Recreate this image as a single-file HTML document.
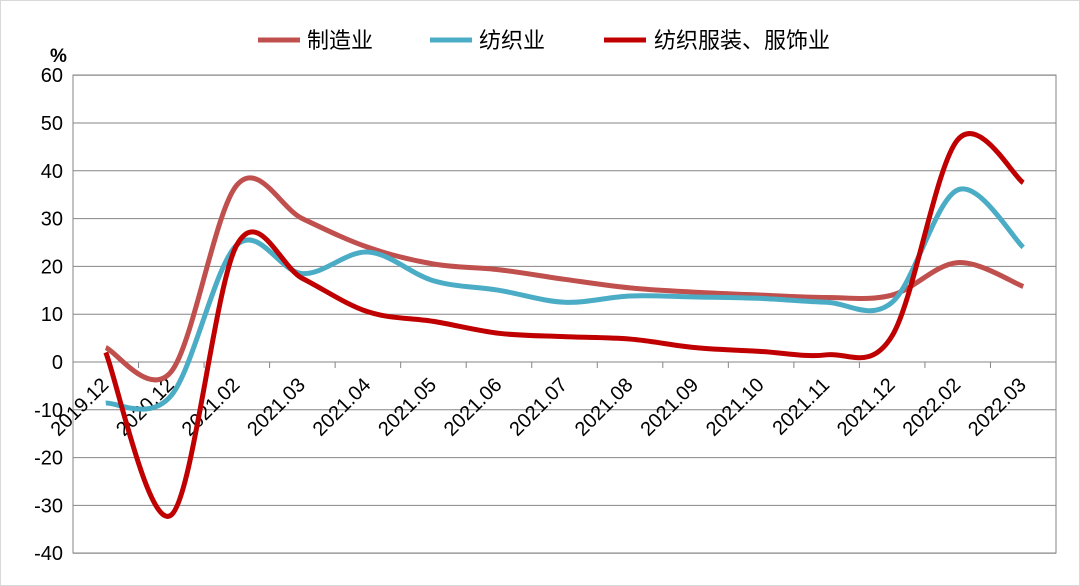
<!DOCTYPE html>
<html><head><meta charset="utf-8"><style>
body{margin:0;background:#fff;}
svg{display:block;font-family:"Liberation Sans","Noto Sans CJK SC",sans-serif;}
</style></head><body>
<svg id="s" width="1080" height="586" xmlns="http://www.w3.org/2000/svg">
<rect x="0.5" y="0.5" width="1079" height="585" fill="#fff" stroke="#d9d9d9"/>
<g id="g"></g>
<text x="50" y="62" font-size="19" font-weight="bold">%</text>
<line x1="258" y1="40" x2="300" y2="40" stroke="#c0504d" stroke-width="5"/>
<text x="307" y="48" font-size="22">制造业</text>
<line x1="430" y1="40" x2="472" y2="40" stroke="#4bacc6" stroke-width="5"/>
<text x="479" y="48" font-size="22">纺织业</text>
<line x1="604" y1="40" x2="646" y2="40" stroke="#c00000" stroke-width="5"/>
<text x="654" y="48" font-size="22">纺织服装、服饰业</text>
</svg>
<script>
var g=document.getElementById('g'),h='';
var L=73,R=1056,T=75,B=553;function Y(v){return 362-v*4.78;}
for(var v=-40;v<=60;v+=10){var y=Y(v);h+='<line x1="'+L+'" y1="'+y+'" x2="'+R+'" y2="'+y+'" stroke="#868686" stroke-width="1"/>';
h+='<text x="63" y="'+(y+7)+'" font-size="20" text-anchor="end">'+v+'</text>';}
h+='<rect x="'+L+'" y="'+T+'" width="'+(R-L)+'" height="'+(B-T)+'" fill="none" stroke="#868686"/>';
var labs=['2019.12','2020.12','2021.02','2021.03','2021.04','2021.05','2021.06','2021.07','2021.08','2021.09','2021.10','2021.11','2021.12','2022.02','2022.03'];
var w=(R-L)/15;
for(var i=0;i<=15;i++){var x=L+i*w;h+='<line x1="'+x+'" y1="362" x2="'+x+'" y2="368" stroke="#868686"/>';}
for(var i=0;i<15;i++){var cx=L+w*(i+0.5);h+='<text transform="translate('+(cx+4)+',386) rotate(-45)" font-size="20" text-anchor="end">'+labs[i]+'</text>';}
function path(d){var p=d.map(function(v,i){return [L+w*(i+0.5),Y(v)];});var s='M'+p[0][0]+','+p[0][1];var t=1/6;
for(var i=0;i<p.length-1;i++){var p0=p[Math.max(i-1,0)],p1=p[i],p2=p[i+1],p3=p[Math.min(i+2,p.length-1)];
s+=' C'+(p1[0]+(p2[0]-p0[0])*t)+','+(p1[1]+(p2[1]-p0[1])*t)+' '+(p2[0]-(p3[0]-p1[0])*t)+','+(p2[1]-(p3[1]-p1[1])*t)+' '+p2[0]+','+p2[1];}return s;}
var M=[3,-2,37,30,24,20.5,19.3,17.3,15.5,14.6,14,13.5,14,20.8,15.8];
var Tx=[-8.6,-7,24.5,18.5,23,17,15,12.5,13.8,13.6,13.3,12.5,12.5,36,24];
var C=[2,-32,24.5,17.5,10.5,8.5,6,5.3,4.8,3,2.2,1.5,5.5,46.5,37.5];
[[M,'#c0504d'],[Tx,'#4bacc6'],[C,'#c00000']].forEach(function(a){h+='<path d="'+path(a[0])+'" fill="none" stroke="'+a[1]+'" stroke-width="5" stroke-linejoin="round"/>';});
g.innerHTML=h;
</script>
</body></html>
